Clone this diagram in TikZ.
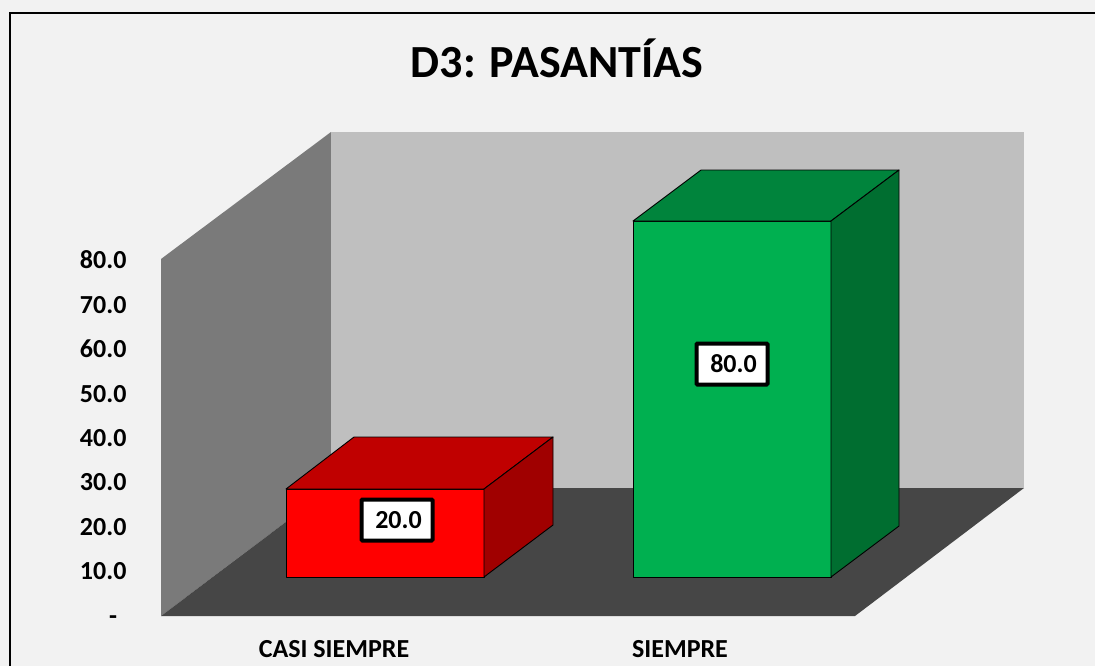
\documentclass[tikz,border=0pt]{standalone}
\usepackage{fontspec}
\setmainfont{Carlito}
\usetikzlibrary{positioning,calc}
\definecolor{fondo}{HTML}{F2F2F2}
\definecolor{paredfondo}{HTML}{BFBFBF}
\definecolor{paredlado}{HTML}{7A7A7A}
\definecolor{piso}{HTML}{464646}
\definecolor{rojofrente}{HTML}{FF0000}
\definecolor{rojotapa}{HTML}{C00000}
\definecolor{rojolado}{HTML}{A00000}
\definecolor{verdefrente}{HTML}{00B050}
\definecolor{verdetapa}{HTML}{00843C}
\definecolor{verdelado}{HTML}{006E30}

\begin{document}
\begin{tikzpicture}[x=1pt,y=-1pt]

    \tikzstyle{cara}=[draw=black, line width=0.9pt, line join=round]
    \tikzstyle{eje}=[anchor=base east, font=\bfseries\fontsize{26}{26}\selectfont]
    \tikzstyle{cat}=[anchor=base, font=\bfseries\fontsize{26}{26}\selectfont]
    \tikzstyle{valor}=[draw, fill=white, line width=4pt, rounded corners=1pt, minimum width=71pt, minimum height=41pt, inner sep=0pt, font=\bfseries\fontsize{26}{26}\selectfont]

    \useasboundingbox (0,0) rectangle (1095,666);
    \clip (0,0) rectangle (1095,666);
    \fill[fondo] (0,0) rectangle (1095,666);
    \draw[line width=1.5pt] (10,680) -- (10,13) -- (1110,13);

    % paredes y piso
    \fill[paredlado] (161,616) -- (161,259) -- (331,132) -- (331,488) -- cycle;
    \fill[paredfondo] (331,132) rectangle (1024,488);
    \fill[piso] (161,616) -- (855,616) -- (1024,488) -- (331,488) -- cycle;

    % barra casi siempre
    \draw[cara, fill=rojofrente] (286,489) rectangle (484,577);
    \draw[cara, fill=rojotapa] (286,489) -- (354,437) -- (553,437) -- (484,489) -- cycle;
    \draw[cara, fill=rojolado] (484,489) -- (553,437) -- (553,525) -- (484,577) -- cycle;

    % barra siempre
    \draw[cara, fill=verdefrente] (633,221) rectangle (831,577);
    \draw[cara, fill=verdetapa] (633,221) -- (701,170) -- (899,170) -- (831,221) -- cycle;
    \draw[cara, fill=verdelado] (831,221) -- (899,170) -- (899,526) -- (831,577) -- cycle;

    \node (titulo) at (557,78)[anchor=base, font=\bfseries\fontsize{46}{46}\selectfont]{D3: PASANTÍAS};

    \node (eje0) at (113,624)[anchor=base, font=\bfseries\fontsize{26}{26}\selectfont]{-};
    \foreach \v in {1,...,8}
      \node (eje\v) at (130,{624-44.4*\v})[eje]{\v0.0};

    \node (valorCasi) at (397,520)[valor]{\hspace{3pt}20.0};
    \node (valorSiempre) at (732,364)[valor]{\hspace{3pt}80.0};

    \node (catCasi) at (334,657)[cat]{CASI SIEMPRE};
    \node (catSiempre) at (680,657)[cat]{SIEMPRE};

\end{tikzpicture}
\end{document}
